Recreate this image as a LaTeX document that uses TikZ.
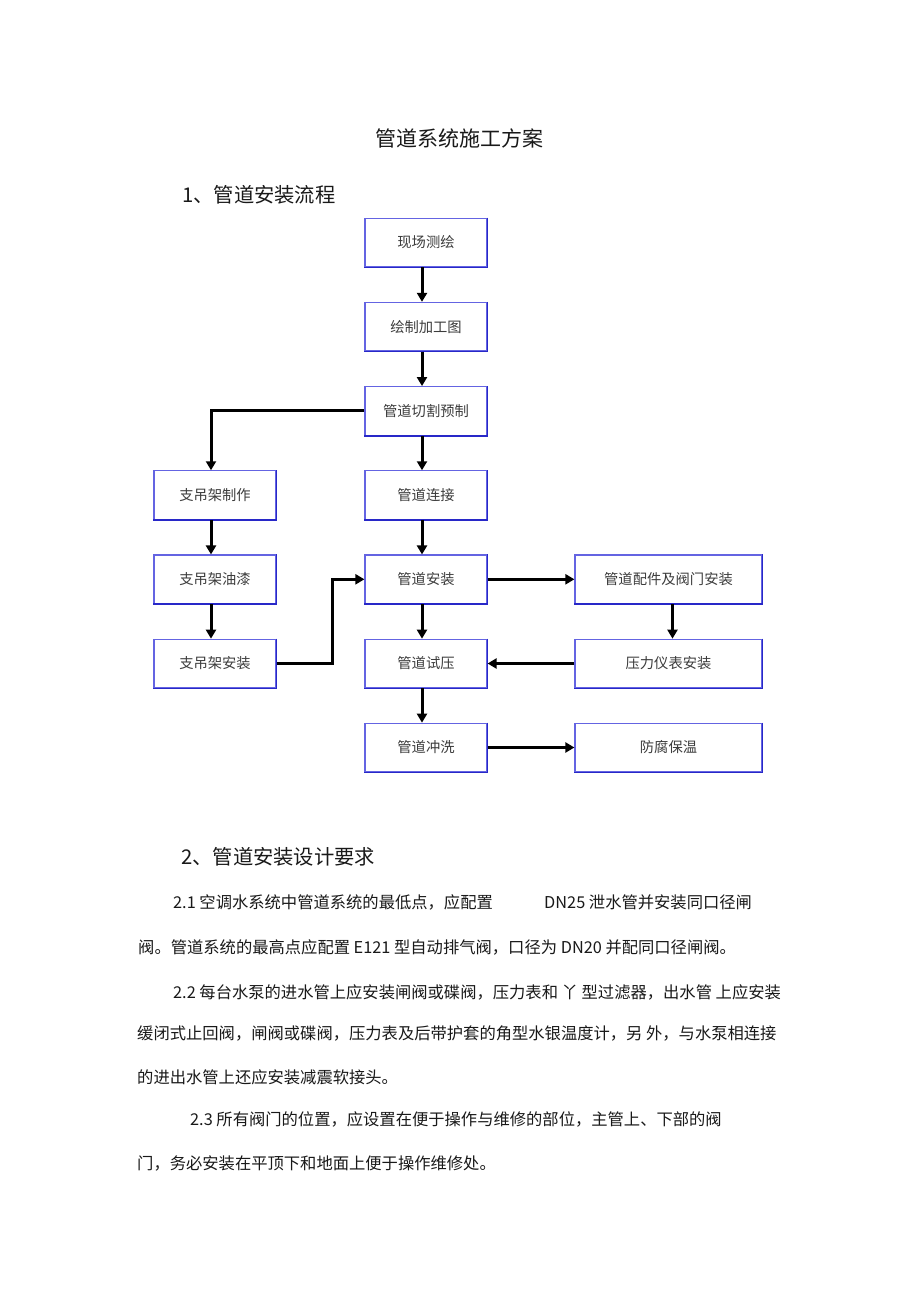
\documentclass[tikz,border=0pt]{standalone}
\usepackage{fontspec}
\setmainfont{Noto Sans CJK SC}
\usetikzlibrary{arrows.meta}
\definecolor{boxblue}{RGB}{100,100,226}
\definecolor{boxdark}{RGB}{40,40,200}
\definecolor{boxtext}{RGB}{60,60,60}
\begin{document}
\begin{tikzpicture}[x=1pt,y=-1pt,
  flow/.style={draw=boxblue, line width=1.2pt, fill=white, minimum height=48.5pt,
    inner sep=0pt, text=boxtext, font=\fontsize{14.3}{16}\selectfont},
  cbox/.style={flow, minimum width=122pt},
  rbox/.style={flow, minimum width=187pt},
  arr/.style={line width=3pt, -{Triangle[length=9pt,width=10pt]}},
  txt/.style={anchor=west, inner sep=0pt, text=black!90, font=\fontsize{16.3}{18}\selectfont},
  head/.style={anchor=west, inner sep=0pt, text=black!90, font=\fontsize{20.3}{22}\selectfont},
]
\fill[white] (0,0) rectangle (920,1303);
\useasboundingbox (0,0) rectangle (920,1303);

% titles
\node[inner sep=0pt, text=black!90, font=\fontsize{21}{23}\selectfont] (title) at (459,138) {管道系统施工方案};
\node[head] (h1) at (182,195) {1、管道安装流程};

% centre column
\node[cbox] (c1) at (426,242.5) {现场测绘};
\node[cbox] (c2) at (426,326.7) {绘制加工图};
\node[cbox] (c3) at (426,410.9) {管道切割预制};
\node[cbox] (c4) at (426,495.1) {管道连接};
\node[cbox] (c5) at (426,579.3) {管道安装};
\node[cbox] (c6) at (426,663.5) {管道试压};
\node[cbox] (c7) at (426,747.5) {管道冲洗};
% left column
\node[cbox] (l1) at (215,495.1) {支吊架制作};
\node[cbox] (l2) at (215,579.3) {支吊架油漆};
\node[cbox] (l3) at (215,663.5) {支吊架安装};
% right column
\node[rbox] (r1) at (668.5,579.3) {管道配件及阀门安装};
\node[rbox] (r2) at (668.5,663.5) {压力仪表安装};
\node[rbox] (r3) at (668.5,747.5) {防腐保温};

\foreach \n in {c1,c2,c3,c4,c5,c6,c7,l1,l2,l3,r1,r2,r3}
  \draw[boxdark, line width=1.6pt] (\n.north east) -- (\n.south east) -- (\n.south west);

% connectors
\draw[arr] ([xshift=-4pt]c1.south) -- ([xshift=-4pt]c2.north);
\draw[arr] ([xshift=-4pt]c2.south) -- ([xshift=-4pt]c3.north);
\draw[arr] ([xshift=-4pt]c3.south) -- ([xshift=-4pt]c4.north);
\draw[arr] ([xshift=-4pt]c4.south) -- ([xshift=-4pt]c5.north);
\draw[arr] ([xshift=-4pt]c5.south) -- ([xshift=-4pt]c6.north);
\draw[arr] ([xshift=-4pt]c6.south) -- ([xshift=-4pt]c7.north);
\draw[arr] (c3.west) -| ([xshift=-4pt]l1.north);
\draw[arr] ([xshift=-4pt]l1.south) -- ([xshift=-4pt]l2.north);
\draw[arr] ([xshift=-4pt]l2.south) -- ([xshift=-4pt]l3.north);
\draw[arr] (l3.east) -- ++(56,0) |- (c5.west);
\draw[arr] (c5.east) -- (r1.west);
\draw[arr] ([xshift=4pt]r1.south) -- ([xshift=4pt]r2.north);
\draw[arr] (r2.west) -- (c6.east);
\draw[arr] (c7.east) -- (r3.west);

% section 2
\node[head] (h2) at (181,857) {2、管道安装设计要求};
\node[txt] (p1a) at (173,902) {2.1 空调水系统中管道系统的最低点，应配置};
\node[txt] (p1b) at (544,902) {DN25 泄水管并安装同口径闸};
\node[txt] (p2) at (138,947) {阀。管道系统的最高点应配置 E121 型自动排气阀，口径为 DN20 并配同口径闸阀。};
\node[txt] (p3) at (173,992) {2.2 每台水泵的进水管上应安装闸阀或碟阀，压力表和 丫 型过滤器，出水管 上应安装};
\node[txt] (p4) at (137,1033) {缓闭式止回阀，闸阀或碟阀，压力表及后带护套的角型水银温度计，另 外，与水泵相连接};
\node[txt] (p5) at (137,1077) {的进出水管上还应安装减震软接头。};
\node[txt] (p6) at (190,1119) {2.3 所有阀门的位置，应设置在便于操作与维修的部位，主管上、下部的阀};
\node[txt] (p7) at (137,1163) {门，务必安装在平顶下和地面上便于操作维修处。};
\end{tikzpicture}
\end{document}
